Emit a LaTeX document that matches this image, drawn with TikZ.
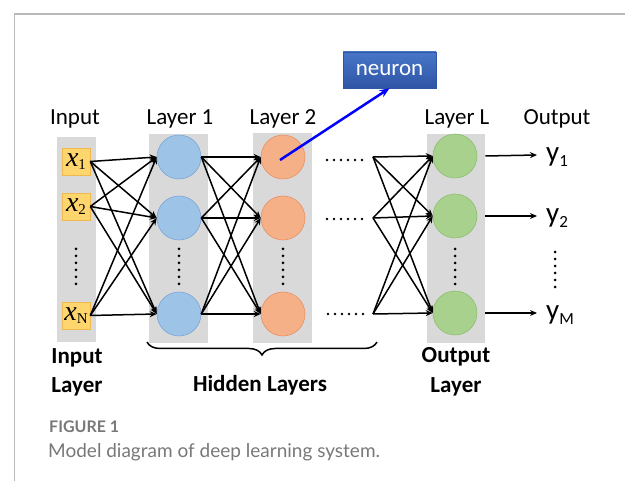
\documentclass[tikz,border=0pt]{standalone}
\usepackage{fontspec}
\setmainfont{Carlito}
\newfontfamily\serf{Liberation Serif}
\newfontfamily\capf{Lato}
\usetikzlibrary{arrows.meta,decorations.pathreplacing,shadings}
\definecolor{colgray}{RGB}{217,217,217}
\definecolor{framegray}{RGB}{185,185,185}
\definecolor{yfill}{RGB}{255,214,110}
\definecolor{ydraw}{RGB}{240,185,80}
\definecolor{bfill}{RGB}{157,195,230}
\definecolor{bdraw}{RGB}{125,165,215}
\definecolor{ofill}{RGB}{245,176,136}
\definecolor{odraw}{RGB}{232,145,100}
\definecolor{gfill}{RGB}{169,209,142}
\definecolor{gdraw}{RGB}{140,190,110}
\definecolor{ntop}{RGB}{72,118,200}
\definecolor{nbot}{RGB}{47,85,165}
\definecolor{capgray}{RGB}{120,120,120}
\tikzset{
  inbox/.style={draw=ydraw, fill=yfill, line width=0.6pt, minimum width=28pt, minimum height=27pt, inner sep=0pt},
  neu/.style={circle, line width=0.6pt, minimum size=44pt, inner sep=0pt},
  c1/.style={neu, draw=bdraw, fill=bfill},
  c2/.style={neu, draw=odraw, fill=ofill},
  cL/.style={neu, draw=gdraw, fill=gfill},
  conn/.style={-{Stealth[length=7pt,width=6pt]}, line width=1.5pt},
  outarrow/.style={-{Stealth[length=7pt,width=6pt]}, line width=1.5pt},
  vdots/.style={line width=3pt, line cap=round, dash pattern=on 0pt off 7pt},
  hdots/.style={line width=2.6pt, line cap=round, dash pattern=on 0pt off 7pt},
  toplab/.style={anchor=base, inner sep=0pt, font=\fontsize{23}{27}\selectfont},
  botlab/.style={anchor=base, inner sep=0pt, font=\fontsize{23}{27}\selectfont\bfseries},
  ylab/.style={anchor=base west, inner sep=0pt, font=\fontsize{29}{30}\selectfont},
  neuronbox/.style={top color=ntop, bottom color=nbot, draw=nbot, line width=0.5pt, minimum width=93pt, minimum height=36pt, inner sep=0pt, text=white, font=\fontsize{23}{27}\selectfont},
  bluearrow/.style={-{Stealth[length=10pt,width=8pt]}, line width=2.5pt, draw={rgb,255:red,0;green,0;blue,255}},
}
\newcommand{\xin}[1]{{\serf\fontsize{28}{28}\selectfont\itshape x}\raisebox{-3pt}{\serf\fontsize{15}{15}\selectfont #1}}
\newcommand{\ysub}[1]{y\raisebox{-5pt}{\fontsize{17}{17}\selectfont #1}}
\begin{document}
\begin{tikzpicture}[x=1pt,y=-1pt]
\useasboundingbox (0,0) rectangle (625,481);
\draw[framegray, line width=1.2pt] (14.5,481) -- (14.5,14) -- (625,14);
% columns
\fill[colgray] (57,137) rectangle (96,342);
\fill[colgray] (149,134) rectangle (208,343);
\fill[colgray] (253,133) rectangle (312,343);
\fill[colgray] (427,134) rectangle (485,343);
% top labels
\node[toplab] (tin) at (75,125) {Input};
\node[toplab] (tl1) at (180,125) {Layer 1};
\node[toplab] (tl2) at (283,125) {Layer 2};
\node[toplab] (tlL) at (457,125) {Layer L};
\node[toplab] (tout) at (557,125) {Output};
% input boxes
\node[inbox] (in1) at (76,161.5) {\xin{1}};
\node[inbox] (in2) at (76,206.5) {\xin{2}};
\node[inbox] (inN) at (76,315.5) {\xin{N}};
% neurons
\node[c1] (l1a) at (179,157) {};
\node[c1] (l1b) at (179,218) {};
\node[c1] (l1c) at (179,314) {};
\node[c2] (l2a) at (283,157) {};
\node[c2] (l2b) at (283,218) {};
\node[c2] (l2c) at (283,314) {};
\node[cL] (lLa) at (455,156) {};
\node[cL] (lLb) at (455,216) {};
\node[cL] (lLc) at (455,313) {};
% dot sources
\coordinate (d1) at (373,157);
\coordinate (d2) at (373,218);
\coordinate (d3) at (373,314);
% connections
\foreach \s in {in1,in2,inN}
  \foreach \t in {l1a,l1b,l1c}
    \draw[conn] (\s.east) -- (\t.west);
\foreach \s in {l1a,l1b,l1c}
  \foreach \t in {l2a,l2b,l2c}
    \draw[conn] (\s.east) -- (\t.west);
\foreach \s in {d1,d2,d3}
  \foreach \t in {lLa,lLb,lLc}
    \draw[conn] (\s) -- (\t.west);
% vertical dots
\draw[vdots] (76,249) -- (76,285);
\draw[vdots] (179,249) -- (179,285);
\draw[vdots] (283,249) -- (283,285);
\draw[vdots] (455,249) -- (455,285);
\draw[vdots] (555,252) -- (555,288);
% horizontal dots
\draw[hdots] (327,160) -- (363,160);
\draw[hdots] (327,219) -- (363,219);
\draw[hdots] (328,314) -- (364,314);
% outputs
\coordinate (ya) at (537,155);
\coordinate (yb) at (537,216);
\coordinate (yc) at (537,313);
\draw[outarrow] ([xshift=8pt]lLa.east) -- (ya);
\draw[outarrow] ([xshift=8pt]lLb.east) -- (yb);
\draw[outarrow] ([xshift=8pt]lLc.east) -- (yc);
\node[ylab] (ya1) at (546,162) {\ysub{1}};
\node[ylab] (yb1) at (546,223) {\ysub{2}};
\node[ylab] (yc1) at (546,320) {\ysub{M}};
% neuron
\node[neuronbox] (nr) at (389.5,70) {neuron};
\draw[bluearrow] ([xshift=-3pt,yshift=-3pt]l2a.center) -- (nr.south);
% brace
\draw[decorate, decoration={brace, amplitude=13pt, mirror}, line width=1.5pt] (147,342) -- (377,342);
% bottom labels
\node[botlab] (bi1) at (77,364) {Input};
\node[botlab] (bi2) at (77,393) {Layer};
\node[botlab] (bh) at (260,392) {Hidden Layers};
\node[botlab] (bo1) at (456,363) {Output};
\node[botlab] (bo2) at (456,393) {Layer};
% caption
\node[anchor=base west, inner sep=0pt, text=capgray, font=\capf\fontsize{16}{18}\selectfont\bfseries] (fig) at (49,433) {FIGURE 1};
\node[anchor=base west, inner sep=0pt, text=capgray, font=\capf\fontsize{19}{22}\selectfont] (cap) at (48,458) {Model diagram of deep learning system.};
\end{tikzpicture}
\end{document}
